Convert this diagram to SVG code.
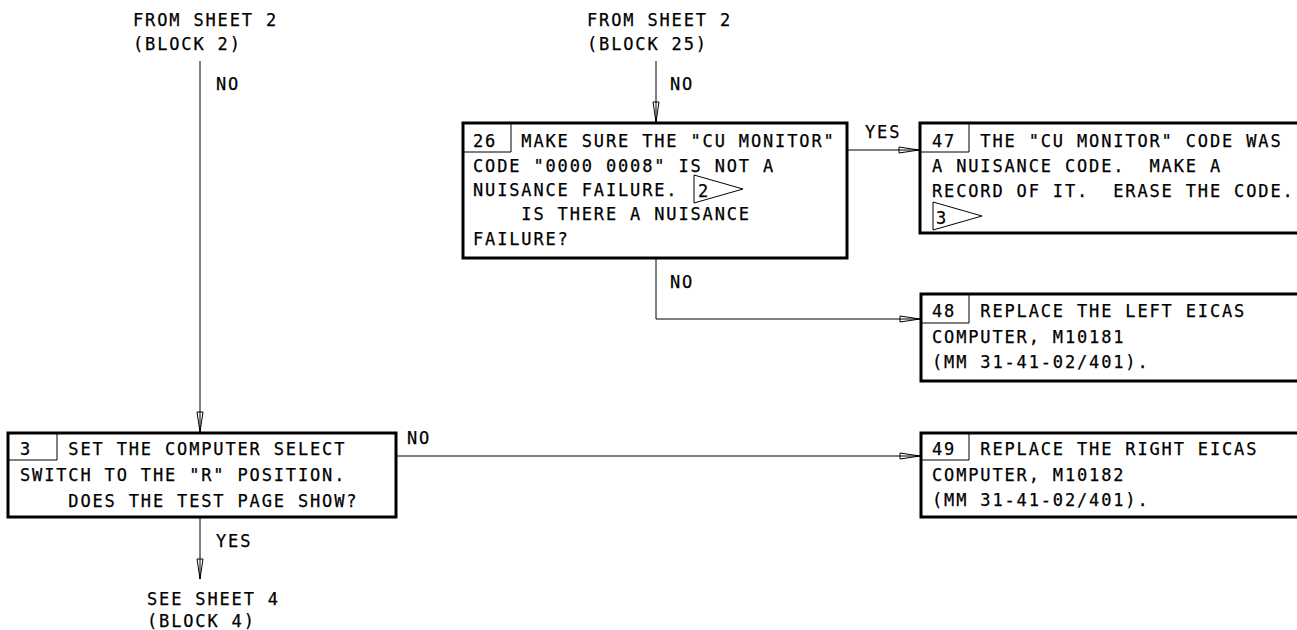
<svg xmlns="http://www.w3.org/2000/svg" width="1297" height="630" viewBox="0 0 1297 630" xml:space="preserve">
<style>
text{font-family:"DejaVu Sans Mono","Liberation Mono",monospace;font-size:17px;letter-spacing:1.85px;fill:#000;white-space:pre;stroke:#000;stroke-width:0.25}
.box{fill:#fff;stroke:#000;stroke-width:3}
.cell{fill:none;stroke:#000;stroke-width:1}
.conn{fill:none;stroke:#000;stroke-width:1}
</style>
<defs>
<marker id="arr" markerUnits="userSpaceOnUse" markerWidth="22" markerHeight="10" refX="20" refY="4" orient="auto" overflow="visible">
<path d="M0,1 L20,4 L0,7 Z" fill="#fff" stroke="#000" stroke-width="1"/>
<path d="M0,4 L20,4" stroke="#000" stroke-width="1"/>
</marker>
</defs>
<g id="connectors">
<path class="conn" d="M200,61 V432" marker-end="url(#arr)"/>
<path class="conn" d="M200,518 V579" marker-end="url(#arr)"/>
<path class="conn" d="M656,61 V122" marker-end="url(#arr)"/>
<path class="conn" d="M848,150 H919" marker-end="url(#arr)"/>
<path class="conn" d="M656,259 V319 H920" marker-end="url(#arr)"/>
<path class="conn" d="M397,456 H920" marker-end="url(#arr)"/>
<text x="216" y="90">NO</text>
<text x="216" y="547">YES</text>
<text x="670" y="90">NO</text>
<text x="865" y="138">YES</text>
<text x="670" y="288">NO</text>
<text x="407" y="444">NO</text>
</g>
<g id="from-block2">
<text x="133" y="26">FROM SHEET 2</text>
<text x="133" y="50">(BLOCK 2)</text>
</g>
<g id="from-block25">
<text x="587" y="26">FROM SHEET 2</text>
<text x="587" y="50">(BLOCK 25)</text>
</g>
<g id="see-sheet4">
<text x="147" y="605">SEE SHEET 4</text>
<text x="147" y="627">(BLOCK 4)</text>
</g>
<g id="block26">
<rect class="box" x="463" y="123" width="384" height="135"/>
<path class="cell" d="M463,152 H511 V123"/>
<text x="473" y="147">26  MAKE SURE THE "CU MONITOR"</text>
<text x="473" y="172">CODE "0000 0008" IS NOT A</text>
<text x="473" y="196">NUISANCE FAILURE.</text>
<path class="cell" d="M694,175 L743,189 L694,203 Z"/>
<text x="698" y="197">2</text>
<text x="473" y="220">    IS THERE A NUISANCE</text>
<text x="473" y="245">FAILURE?</text>
</g>
<g id="block47">
<rect class="box" x="920" y="123" width="390" height="110"/>
<path class="cell" d="M920,152 H969 V123"/>
<text x="932" y="147">47  THE "CU MONITOR" CODE WAS</text>
<text x="932" y="172">A NUISANCE CODE.  MAKE A</text>
<text x="932" y="197">RECORD OF IT.  ERASE THE CODE.</text>
<path class="cell" d="M933,202 L982,216 L933,230 Z"/>
<text x="936" y="224">3</text>
</g>
<g id="block48">
<rect class="box" x="921" y="294" width="390" height="87"/>
<path class="cell" d="M921,323 H969 V294"/>
<text x="932" y="317">48  REPLACE THE LEFT EICAS</text>
<text x="932" y="343">COMPUTER, M10181</text>
<text x="932" y="368">(MM 31-41-02/401).</text>
</g>
<g id="block3">
<rect class="box" x="8" y="433" width="388" height="84"/>
<path class="cell" d="M8,460 H57 V433"/>
<text x="20" y="455">3   SET THE COMPUTER SELECT</text>
<text x="20" y="481">SWITCH TO THE "R" POSITION.</text>
<text x="20" y="507">    DOES THE TEST PAGE SHOW?</text>
</g>
<g id="block49">
<rect class="box" x="921" y="433" width="390" height="84"/>
<path class="cell" d="M921,460 H969 V433"/>
<text x="932" y="455">49  REPLACE THE RIGHT EICAS</text>
<text x="932" y="481">COMPUTER, M10182</text>
<text x="932" y="506">(MM 31-41-02/401).</text>
</g>
</svg>
